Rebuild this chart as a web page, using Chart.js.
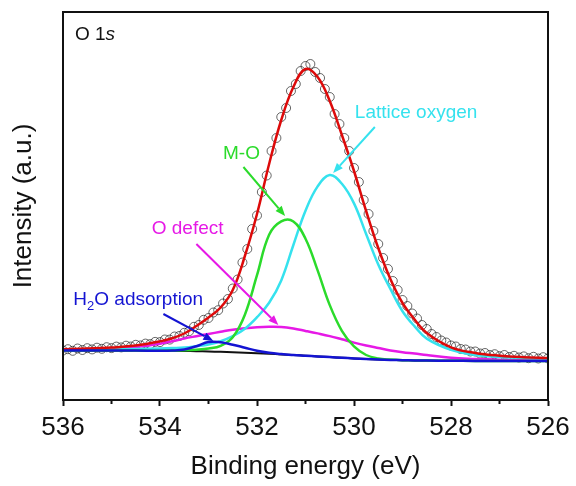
<!DOCTYPE html>
<html>
<head>
<meta charset="utf-8">
<script src="https://cdn.jsdelivr.net/npm/chart.js@4.4.1/dist/chart.umd.min.js"></script>
<style>
  html, body { margin: 0; padding: 0; background: #fff; }
  canvas { display: block; }
</style>
</head>
<body>
<canvas id="xps" width="576" height="486"></canvas>
<script>
// Binding energy grid for the fitted curves (eV)
const fitBE = [536, 535.5, 535, 534.5, 534, 533.75, 533.5, 533.25, 533, 532.75, 532.5, 532.25, 532, 531.75, 531.5, 531.25,
               531, 530.75, 530.5, 530.25, 530, 529.75, 529.5, 529.25, 529, 528.75, 528.5, 528, 527.5, 527, 526.5, 526];

const background = [49.5, 49.5, 49.5, 49.4, 49.3, 49.2, 49.0, 48.8, 48.5, 48.2, 47.8, 47.3, 46.8, 46.2, 45.6, 45.0,
                    44.3, 43.6, 42.9, 42.2, 41.6, 41.0, 40.5, 40.1, 39.8, 39.6, 39.4, 39.2, 39.1, 39.0, 39.0, 39.0];
const h2oAdsorption = [49.5, 49.5, 49.5, 49.4, 49.3, 49.5, 50.5, 53.8, 58.0, 57.7, 55.3, 52.3, 49.3, 47.2, 45.9, 45.0,
                       44.3, 43.6, 42.9, 42.2, 41.6, 41.0, 40.5, 40.1, 39.8, 39.6, 39.4, 39.2, 39.1, 39.0, 39.0, 39.0];
const oDefect = [50.3, 50.7, 51.5, 52.9, 56.3, 58.7, 61.5, 63.8, 66.0, 68.2, 70.3, 71.8, 72.8, 73.2, 73.0, 71.5,
                 69.1, 66.6, 63.9, 60.7, 57.4, 54.5, 52.0, 49.6, 47.8, 46.4, 44.9, 42.2, 41.1, 40.3, 39.8, 39.5];
const metalOxygen = [49.5, 49.5, 49.5, 49.4, 49.3, 49.5, 49.7, 50.3, 51.5, 54.2, 62.8, 85.3, 124.8, 165.2, 178.6, 178.5,
                     161.3, 129.6, 94.9, 69.2, 53.6, 45.0, 41.5, 40.4, 39.8, 39.6, 39.4, 39.2, 39.1, 39.0, 39.0, 39.0];
const latticeOxygen = [50.0, 50.2, 50.5, 50.9, 51.6, 52.0, 52.5, 53.8, 55.5, 58.7, 63.8, 71.3, 82.8, 97.2, 119.6, 155.0,
                       189.3, 213.6, 224.9, 216.2, 196.6, 166.0, 135.5, 111.1, 88.8, 73.6, 61.4, 50.2, 45.1, 43.0, 42.0, 41.5];
const envelope = [50.8, 51.4, 52.5, 54.4, 58.6, 61.8, 66.5, 74, 82.5, 92.5, 110, 144, 186, 236, 280, 313,
                  331, 323, 299, 265, 229, 189, 152, 121, 97, 80.5, 67, 52.7, 47.1, 44.3, 42.8, 42];

// Measured spectrum (open circles)
const measBE = [536.0, 535.9, 535.8, 535.7, 535.6, 535.5, 535.4, 535.3, 535.2, 535.1,
                535.0, 534.9, 534.8, 534.7, 534.6, 534.5, 534.4, 534.3, 534.2, 534.1,
                534.0, 533.9, 533.8, 533.7, 533.6, 533.5, 533.4, 533.3, 533.2, 533.1,
                533.0, 532.9, 532.8, 532.7, 532.6, 532.5, 532.4, 532.3, 532.2, 532.1,
                532.0, 531.9, 531.8, 531.7, 531.6, 531.5, 531.4, 531.3, 531.2, 531.1,
                531.0, 530.9, 530.8, 530.7, 530.6, 530.5, 530.4, 530.3, 530.2, 530.1,
                530.0, 529.9, 529.8, 529.7, 529.6, 529.5, 529.4, 529.3, 529.2, 529.1,
                529.0, 528.9, 528.8, 528.7, 528.6, 528.5, 528.4, 528.3, 528.2, 528.1,
                528.0, 527.9, 527.8, 527.7, 527.6, 527.5, 527.4, 527.3, 527.2, 527.1,
                527.0, 526.9, 526.8, 526.7, 526.6, 526.5, 526.4, 526.3, 526.2, 526.1,
                526.0];
const measured = [49.5, 50.8, 49.2, 51.5, 50.0, 51.8, 50.6, 52.3, 51.2, 52.8,
                  51.9, 53.4, 52.6, 54.3, 53.5, 55.2, 54.6, 56.4, 55.9, 58.1,
                  57.9, 60.5, 60.4, 63.5, 64.0, 67.2, 68.8, 73.2, 75.0, 80.2,
                  82.0, 87.5, 89.8, 96.5, 101.0, 111.5, 120.5, 137.5, 151.0, 171.0,
                  184.5, 208.0, 224.5, 249.0, 262.0, 283.0, 292.0, 309.0, 316.0, 329.0,
                  334.0, 336.0, 328.0, 322.0, 311.0, 303.0, 286.0, 276.0, 262.0, 249.0,
                  232.0, 218.0, 200.0, 186.0, 169.0, 156.0, 142.0, 131.0, 119.0, 110.0,
                  100.0, 94.0, 86.5, 81.5, 75.0, 71.0, 66.0, 63.0, 59.5, 57.5,
                  54.5, 53.5, 51.0, 50.5, 48.5, 48.5, 46.5, 47.0, 45.0, 45.8,
                  43.8, 45.0, 43.0, 44.2, 42.5, 43.6, 41.8, 43.2, 41.5, 42.8,
                  41.6];

const majorTicks = [536, 534, 532, 530, 528, 526];
const minorTicks = [535, 533, 531, 529, 527];

const RED = '#DD0A0A', GREEN = '#2BDB2B', CYAN = '#35E2EE', MAGENTA = '#E619E6', BLUE = '#1414D2';
const FONT = '"Liberation Sans", Arial, sans-serif';

// labels with arrows, anchored in data units (eV, intensity)
const notes = [
    { text: 'Lattice oxygen', color: CYAN, at: [528.72, 287], tail: [529.57, 273], head: [530.43, 227] },
    { text: 'M-O', color: GREEN, at: [532.32, 246], tail: [532.28, 233], head: [531.42, 184] },
    { text: 'O defect', color: MAGENTA, at: [533.43, 171], tail: [533.25, 156], head: [531.56, 75] },
    { text: 'H2O adsorption', color: BLUE, at: [534.45, 100], tail: [533.93, 86], head: [532.9, 59] }
];

function toPoints(xs, ys) {
    return xs.map((x, i) => ({ x: x, y: ys[i] }));
}

function curve(label, ys, color) {
    return {
        label: label,
        data: toPoints(fitBE, ys),
        showLine: true,
        borderColor: color,
        borderWidth: 2.5,
        pointRadius: 0,
        tension: 0.4
    };
}

const decorations = {
    id: 'decorations',
    afterDatasetsDraw(chart) {
        const ctx = chart.ctx;
        const xs = chart.scales.x, ys = chart.scales.y;
        const area = chart.chartArea;
        const px = v => xs.getPixelForValue(v);
        const py = v => ys.getPixelForValue(v);

        ctx.save();
        // frame
        ctx.strokeStyle = '#111';
        ctx.lineWidth = 2;
        ctx.strokeRect(area.left, area.top, area.right - area.left, area.bottom - area.top);

        // minor ticks
        minorTicks.forEach(v => {
            ctx.beginPath();
            ctx.moveTo(px(v), area.bottom);
            ctx.lineTo(px(v), area.bottom + 4);
            ctx.stroke();
        });

        // O 1s label
        ctx.fillStyle = '#111';
        ctx.textBaseline = 'alphabetic';
        ctx.textAlign = 'left';
        ctx.font = '19px ' + FONT;
        const lx = area.left + 12, ly = area.top + 28;
        ctx.fillText('O 1', lx, ly);
        const w = ctx.measureText('O 1').width;
        ctx.font = 'italic 19px ' + FONT;
        ctx.fillText('s', lx + w, ly);

        // component labels and arrows
        notes.forEach(n => {
            ctx.strokeStyle = n.color;
            ctx.fillStyle = n.color;
            ctx.lineWidth = 2;
            const x1 = px(n.tail[0]), y1 = py(n.tail[1]);
            const x2 = px(n.head[0]), y2 = py(n.head[1]);
            const ang = Math.atan2(y2 - y1, x2 - x1);
            const len = 10, half = 4;
            const bx = x2 - len * Math.cos(ang), by = y2 - len * Math.sin(ang);
            ctx.beginPath();
            ctx.moveTo(x1, y1);
            ctx.lineTo(bx, by);
            ctx.stroke();
            ctx.beginPath();
            ctx.moveTo(x2, y2);
            ctx.lineTo(bx + half * Math.sin(ang), by - half * Math.cos(ang));
            ctx.lineTo(bx - half * Math.sin(ang), by + half * Math.cos(ang));
            ctx.closePath();
            ctx.fill();

            const cx = px(n.at[0]), cy = py(n.at[1]);
            ctx.textBaseline = 'middle';
            if (n.text.startsWith('H2O')) {
                const big = '19px ' + FONT, small = '13px ' + FONT;
                ctx.font = big;
                const wH = ctx.measureText('H').width;
                const wRest = ctx.measureText('O adsorption').width;
                ctx.font = small;
                const w2 = ctx.measureText('2').width;
                let x = cx - (wH + w2 + wRest) / 2;
                ctx.textAlign = 'left';
                ctx.font = big;
                ctx.fillText('H', x, cy);
                ctx.font = small;
                ctx.fillText('2', x + wH, cy + 6);
                ctx.font = big;
                ctx.fillText('O adsorption', x + wH + w2, cy);
            } else {
                ctx.textAlign = 'center';
                ctx.font = '19px ' + FONT;
                ctx.fillText(n.text, cx, cy);
            }
        });
        ctx.restore();
    }
};

const chart = new Chart(document.getElementById('xps').getContext('2d'), {
    type: 'scatter',
    data: {
        datasets: [
            curve('H2O adsorption', h2oAdsorption, BLUE),
            curve('Envelope', envelope, RED),
            curve('M-O', metalOxygen, GREEN),
            curve('Lattice oxygen', latticeOxygen, CYAN),
            curve('O defect', oDefect, MAGENTA),
            Object.assign(curve('Background', background, '#111'), { borderWidth: 2 }),
            {
                label: 'Raw data',
                data: toPoints(measBE, measured),
                showLine: false,
                pointStyle: 'circle',
                pointRadius: 4.5,
                pointBorderWidth: 0.9,
                pointBorderColor: 'rgba(30,30,30,0.75)',
                pointBackgroundColor: 'rgba(0,0,0,0)'
            }
        ]
    },
    options: {
        responsive: false,
        animation: false,
        layout: { padding: { top: 12, right: 28, left: 0, bottom: 0 } },
        plugins: { legend: { display: false }, tooltip: { enabled: false } },
        scales: {
            x: {
                type: 'linear',
                reverse: true,
                min: 526,
                max: 536,
                afterFit(scale) { scale.height = 86; },
                afterBuildTicks(scale) { scale.ticks = majorTicks.map(v => ({ value: v })); },
                ticks: {
                    color: '#111',
                    font: { family: FONT, size: 26 },
                    padding: 6,
                    maxRotation: 0,
                    callback: v => String(v)
                },
                grid: {
                    display: true,
                    drawOnChartArea: false,
                    drawTicks: true,
                    tickLength: 6,
                    tickWidth: 2,
                    tickColor: '#111'
                },
                border: { display: true, color: '#111', width: 2 },
                title: {
                    display: true,
                    text: 'Binding energy (eV)',
                    color: '#111',
                    font: { family: FONT, size: 26, lineHeight: 1.2 },
                    padding: { top: 0, bottom: 4 }
                }
            },
            y: {
                min: 0,
                max: 388,
                afterFit(scale) { scale.width = 63; },
                ticks: { display: false },
                grid: { display: false },
                border: { display: true, color: '#111', width: 2 },
                title: {
                    display: true,
                    text: 'Intensity (a.u.)',
                    color: '#111',
                    font: { family: FONT, size: 26, lineHeight: 1.2 },
                    padding: { top: 8, bottom: 0 }
                }
            }
        }
    },
    plugins: [decorations]
});
</script>
</body>
</html>
